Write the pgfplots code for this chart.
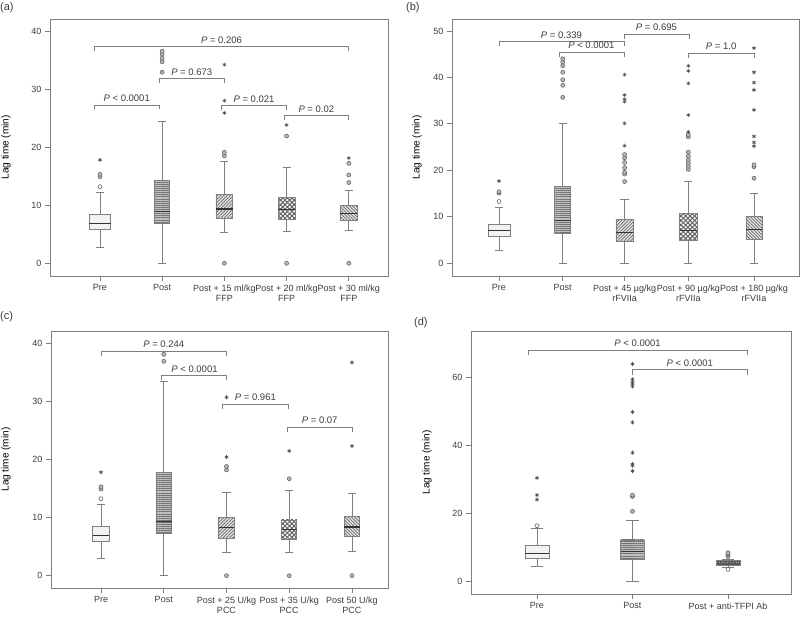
\documentclass[border=0pt]{standalone}
\usepackage{pgfplots}
\pgfplotsset{compat=1.18}
\usepgfplotslibrary{statistics}
\usetikzlibrary{patterns.meta}
\usepackage{fontspec}
\setmainfont{Liberation Sans}
\definecolor{bpgray}{HTML}{7F7F7F}
\definecolor{txt}{HTML}{3C3C3C}
\tikzset{
  prebox/.style={fill=gray!10},
  postbox/.style={preaction={fill=gray!50}, pattern={Lines[angle=0,distance=2.1pt,line width=0.7pt]}, pattern color=black!55},
  nebox/.style={preaction={fill=gray!20}, pattern={Lines[angle=45,distance=2.3pt,line width=0.7pt]}, pattern color=black!60},
  nwbox/.style={preaction={fill=gray!20}, pattern={Lines[angle=-45,distance=2.3pt,line width=0.7pt]}, pattern color=black!60},
  chbox/.style={preaction={fill=white}, pattern={Hatch[angle=45,distance=3.2pt,line width=1.1pt]}, pattern color=black!60},
  darkbox/.style={fill=black!65},
  brk/.style={draw=bpgray, line width=0.7pt},
  plab/.style={font=\fontsize{9.5}{11}\selectfont, text=txt, anchor=base, yshift=3.5pt, inner sep=0pt},
  plet/.style={anchor=north west, inner sep=0pt, font=\fontsize{11}{12}\selectfont, text=txt},
}
\pgfplotsset{
  panel/.style={
    scale only axis, anchor=south west, clip=false,
    axis line style={draw=bpgray, line width=0.8pt},
    tick align=outside, major tick length=5pt, tick pos=left,
    every tick/.style={draw=bpgray, line width=0.8pt},
    /pgf/number format/assume math mode=true,
    tick label style={font=\fontsize{9}{10.5}\selectfont, text=txt},
    xticklabel style={align=center},
    ylabel={Lag time (min)},
    ylabel style={font=\fontsize{12}{14}\selectfont, text=txt},
  },
  bp/.style={draw=bpgray, line width=0.8pt, boxplot/draw direction=y,
    boxplot/every median/.style={draw=black!80, line width=1.3pt}},
  ocirc/.style={only marks, mark=*, mark size=2pt, mark options={fill=gray!55, draw=black!60, line width=0.6pt}},
  wcirc/.style={only marks, mark=*, mark size=2pt, mark options={fill=white, draw=black!60, line width=0.6pt}},
  ostar/.style={only marks, mark=asterisk, mark size=2pt, mark options={draw=black!70, line width=0.6pt}},
}
\newcommand{\brk}[6]{\draw[brk] (axis cs:#1,#4) |- (axis cs:#2,#3) -- (axis cs:#2,#4); \node[plab] at (axis cs:#5,#3) {#6};}
\begin{document}
\begin{tikzpicture}
\useasboundingbox (0pt,0pt) rectangle (800pt,621pt);
% ---------------- (a)
\node[plet] at (0pt,619pt) {(a)};
\begin{axis}[panel, at={(50pt,345pt)}, width=338pt, height=257pt,
  xmin=0.197, xmax=5.63, ymin=-2.19, ymax=42.05,
  ytick={0,10,20,30,40},
  xtick={1,2,3,4,5},
  xticklabels={Pre, Post, {Post + 15 ml/kg\\FFP}, {Post + 20 ml/kg\\FFP}, {Post + 30 ml/kg\\FFP}},
  every axis y label/.style={at={(axis description cs:-0.130,0.5)}, rotate=90, anchor=center}]
\addplot[bp, boxplot/every box/.style={prebox}, boxplot prepared={draw position=1, lower whisker=2.8, lower quartile=5.8, median=6.9, upper quartile=8.35, upper whisker=12.2, box extend=0.34, whisker extend=0.13}] coordinates {};
\addplot[bp, boxplot/every box/.style={postbox}, boxplot prepared={draw position=2, lower whisker=0, lower quartile=6.9, median=8.95, upper quartile=14.3, upper whisker=24.5, box extend=0.24, whisker extend=0.13}] coordinates {};
\addplot[bp, boxplot/every box/.style={nebox}, boxplot prepared={draw position=3, lower whisker=5.3, lower quartile=7.8, median=9.35, upper quartile=11.8, upper whisker=17.6, box extend=0.27, whisker extend=0.13}] coordinates {};
\addplot[bp, boxplot/every box/.style={chbox}, boxplot prepared={draw position=4, lower whisker=5.5, lower quartile=7.6, median=9.2, upper quartile=11.3, upper whisker=16.5, box extend=0.27, whisker extend=0.13}] coordinates {};
\addplot[bp, boxplot/every box/.style={nwbox}, boxplot prepared={draw position=5, lower whisker=5.6, lower quartile=7.4, median=8.6, upper quartile=10.0, upper whisker=12.5, box extend=0.27, whisker extend=0.13}] coordinates {};
\addplot[wcirc] coordinates {(1,13.2)};
\addplot[ocirc] coordinates {(1,14.9) (1,15.3) (2,32.9) (2,34.7) (2,35.3) (2,36.0) (2,36.5) (3,0) (3,18.5) (3,19.1) (4,0) (4,21.9) (5,0) (5,13.9) (5,15.2) (5,17.2)};
\addplot[ostar] coordinates {(1,17.8) (3,25.9) (3,28.0) (3,34.2) (4,23.8) (5,18.1)};
\brk{0.908}{5.0}{37.3}{36.55}{2.954}{\textit{P} = 0.206}
\brk{0.908}{1.953}{27.25}{26.5}{1.43}{\textit{P} < 0.0001}
\brk{1.953}{2.997}{31.8}{31.05}{2.475}{\textit{P} = 0.673}
\brk{2.955}{3.999}{27.1}{26.35}{3.477}{\textit{P} = 0.021}
\brk{3.956}{5.0}{25.4}{24.65}{4.478}{\textit{P} = 0.02}
\end{axis}
% ---------------- (b)
\node[plet] at (406pt,619pt) {(b)};
\begin{axis}[panel, at={(452pt,345pt)}, width=347pt, height=257pt,
  xmin=0.263, xmax=5.706, ymin=-2.73, ymax=52.57,
  ytick={0,10,20,30,40,50},
  xtick={1,2,2.97,3.97,5},
  xticklabels={Pre, Post, {Post + 45 µg/kg\\rFVIIa}, {Post + 90 µg/kg\\rFVIIa}, {Post + 180 µg/kg\\rFVIIa}},
  every axis y label/.style={at={(axis description cs:-0.101,0.5)}, rotate=90, anchor=center}]
\addplot[bp, boxplot/every box/.style={prebox}, boxplot prepared={draw position=1, lower whisker=2.8, lower quartile=5.7, median=7.0, upper quartile=8.4, upper whisker=12.1, box extend=0.345, whisker extend=0.13}] coordinates {};
\addplot[bp, boxplot/every box/.style={postbox}, boxplot prepared={draw position=2, lower whisker=0, lower quartile=6.5, median=9.25, upper quartile=16.6, upper whisker=30.0, box extend=0.25, whisker extend=0.13}] coordinates {};
\addplot[bp, boxplot/every box/.style={nebox}, boxplot prepared={draw position=2.97, lower whisker=0, lower quartile=4.8, median=6.7, upper quartile=9.5, upper whisker=13.8, box extend=0.27, whisker extend=0.13}] coordinates {};
\addplot[bp, boxplot/every box/.style={chbox}, boxplot prepared={draw position=3.97, lower whisker=0, lower quartile=5.0, median=7.0, upper quartile=10.8, upper whisker=17.7, box extend=0.27, whisker extend=0.13}] coordinates {};
\addplot[bp, boxplot/every box/.style={nwbox}, boxplot prepared={draw position=5, lower whisker=0, lower quartile=5.2, median=7.3, upper quartile=10.0, upper whisker=15.1, box extend=0.25, whisker extend=0.13}] coordinates {};
\addplot[wcirc] coordinates {(1,13.3)};
\addplot[ocirc] coordinates {(1,15.1) (1,15.4) (2,35.7) (2,38.3) (2,39.5) (2,41.1) (2,42.5) (2,43.3) (2,44.0)
 (2.97,17.6) (2.97,19.2) (2.97,19.6) (2.97,20.6) (2.97,21.7) (2.97,22.7) (2.97,23.4)
 (3.97,20.2) (3.97,20.9) (3.97,21.5) (3.97,22.2) (3.97,23.0) (3.97,23.9) (3.97,27.2) (3.97,27.7)
 (5,18.3) (5,20.8) (5,21.2)};
\addplot[ostar] coordinates {(1,17.7) (2.97,25.3) (2.97,30.1) (2.97,34.8) (2.97,35.3) (2.97,36.2) (2.97,40.6)
 (3.97,28.3) (3.97,31.9) (3.97,38.7) (3.97,41.4) (3.97,42.5)
 (5,25.2) (5,26.0) (5,27.3) (5,33.0) (5,37.3) (5,38.9) (5,41.1) (5,46.3)};
\brk{1.0}{2.96}{47.7}{46.7}{1.98}{\textit{P} = 0.339}
\brk{1.946}{2.96}{45.4}{44.4}{2.45}{\textit{P} < 0.0001}
\brk{2.96}{3.98}{49.3}{48.3}{3.47}{\textit{P} = 0.695}
\brk{3.97}{5.0}{45.2}{44.2}{4.485}{\textit{P} = 1.0}
\end{axis}
% ---------------- (c)
\node[plet] at (0pt,310pt) {(c)};
\begin{axis}[panel, at={(51pt,33pt)}, width=337pt, height=257pt,
  xmin=0.203, xmax=5.574, ymin=-2.12, ymax=42.12,
  ytick={0,10,20,30,40},
  xtick={1,2,3,4,5},
  xticklabels={Pre, Post, {Post + 25 U/kg\\PCC}, {Post + 35 U/kg\\PCC}, {Post 50 U/kg\\PCC}},
  every axis y label/.style={at={(axis description cs:-0.1335,0.5)}, rotate=90, anchor=center}]
\addplot[bp, boxplot/every box/.style={prebox}, boxplot prepared={draw position=1, lower whisker=2.9, lower quartile=5.85, median=6.9, upper quartile=8.4, upper whisker=12.3, box extend=0.26, whisker extend=0.13}] coordinates {};
\addplot[bp, boxplot/every box/.style={postbox}, boxplot prepared={draw position=2, lower whisker=0, lower quartile=7.3, median=9.3, upper quartile=17.8, upper whisker=33.4, box extend=0.25, whisker extend=0.13}] coordinates {};
\addplot[bp, boxplot/every box/.style={nebox}, boxplot prepared={draw position=3, lower whisker=4.0, lower quartile=6.5, median=8.3, upper quartile=10.0, upper whisker=14.3, box extend=0.25, whisker extend=0.13}] coordinates {};
\addplot[bp, boxplot/every box/.style={chbox}, boxplot prepared={draw position=4, lower whisker=4.0, lower quartile=6.25, median=7.9, upper quartile=9.6, upper whisker=14.7, box extend=0.24, whisker extend=0.13}] coordinates {};
\addplot[bp, boxplot/every box/.style={nwbox}, boxplot prepared={draw position=5, lower whisker=4.2, lower quartile=6.7, median=8.4, upper quartile=10.15, upper whisker=14.2, box extend=0.24, whisker extend=0.13}] coordinates {};
\addplot[wcirc] coordinates {(1,13.25)};
\addplot[ocirc] coordinates {(1,14.9) (1,15.3) (2,36.9) (2,38.1) (3,0) (3,18.2) (3,18.8) (4,0) (4,16.7) (5,0)};
\addplot[ostar] coordinates {(1,17.8) (3,20.4) (3,30.7) (4,21.5) (5,22.3) (5,36.7)};
\brk{1.0}{3.0}{38.6}{37.8}{2.0}{\textit{P} = 0.244}
\brk{1.967}{3.0}{34.4}{33.6}{2.49}{\textit{P} < 0.0001}
\brk{2.94}{3.985}{29.5}{28.7}{3.46}{\textit{P} = 0.961}
\brk{3.97}{5.0}{25.6}{24.8}{4.485}{\textit{P} = 0.07}
\end{axis}
% ---------------- (d)
\node[plet] at (414pt,304pt) {(d)};
\begin{axis}[panel, at={(471pt,27pt)}, width=320pt, height=263pt,
  xmin=0.309, xmax=3.66, ymin=-3.83, ymax=73.64,
  ytick={0,20,40,60},
  xtick={1,2,3},
  xticklabels={Pre, Post, Post + anti-TFPI Ab},
  every axis y label/.style={at={(axis description cs:-0.1375,0.5)}, rotate=90, anchor=center}]
\addplot[bp, boxplot/every box/.style={prebox}, boxplot prepared={draw position=1, lower whisker=4.4, lower quartile=6.7, median=8.0, upper quartile=10.5, upper whisker=15.5, box extend=0.25, whisker extend=0.13}] coordinates {};
\addplot[bp, boxplot/every box/.style={postbox}, boxplot prepared={draw position=2, lower whisker=0, lower quartile=6.4, median=8.6, upper quartile=12.1, upper whisker=17.8, box extend=0.25, whisker extend=0.13}] coordinates {};
\addplot[bp, boxplot/every box/.style={darkbox}, boxplot/every median/.style={draw=gray!60, line width=0.8pt, dotted}, boxplot prepared={draw position=3, lower whisker=3.9, lower quartile=4.7, median=5.4, upper quartile=6.0, upper whisker=6.5, box extend=0.25, whisker extend=0.13}] coordinates {};
\addplot[wcirc] coordinates {(1,16.3) (3,3.4)};
\addplot[ocirc] coordinates {(2,20.5) (2,24.9) (2,25.3) (3,7.2) (3,7.6) (3,8.0) (3,8.3)};
\addplot[ostar] coordinates {(1,24.0) (1,25.3) (1,30.4) (2,32.4) (2,34.0) (2,34.4) (2,37.8) (2,46.7) (2,49.8) (2,57.3) (2,58.1) (2,58.7) (2,59.4) (2,63.9)};
\brk{0.906}{3.2}{67.9}{66.6}{2.053}{\textit{P} < 0.0001}
\brk{2.0}{3.2}{62.2}{60.8}{2.6}{\textit{P} < 0.0001}
\end{axis}
\end{tikzpicture}
\end{document}
